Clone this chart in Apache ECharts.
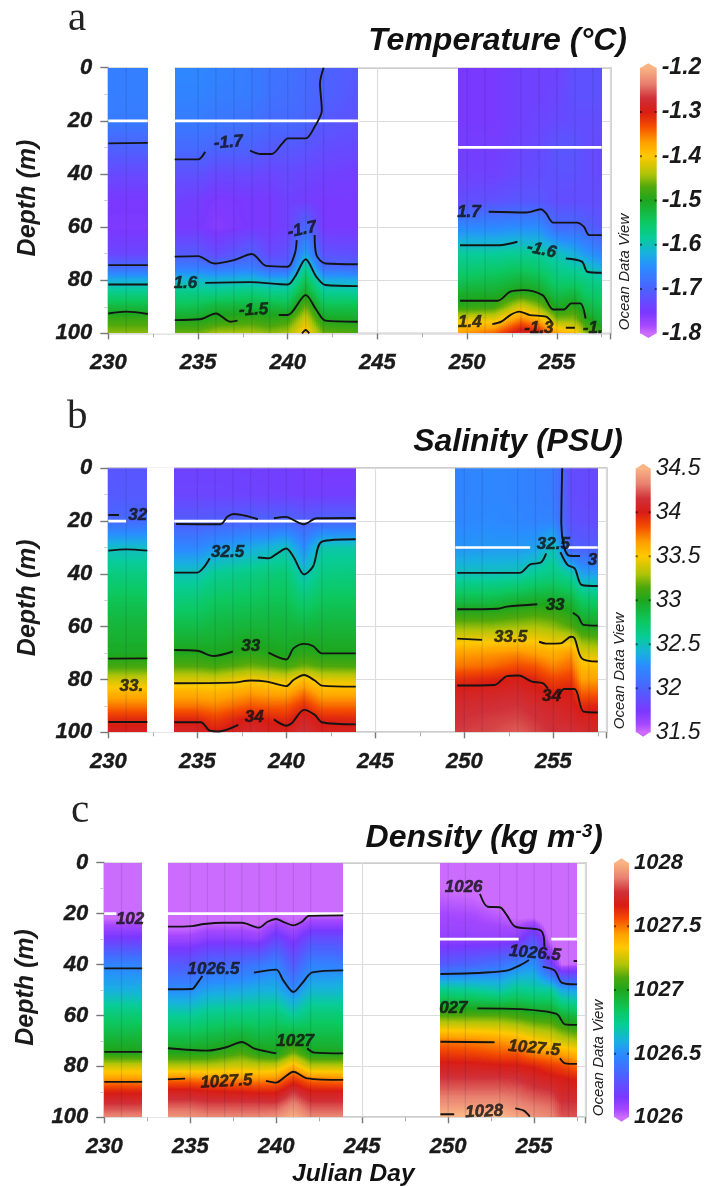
<!DOCTYPE html>
<html>
<head>
<meta charset="utf-8">
<style>
html,body{margin:0;padding:0;background:#fff}
#chart{width:718px;height:1187px;filter:blur(0.4px)}
</style>
<script src="https://cdn.jsdelivr.net/npm/echarts@6/dist/echarts.min.js"></script>
</head>
<body>
<div id="chart"></div>
<script>
// ---------- axes / sampling ----------
const xTicks = [230, 235, 240, 245, 250, 255];
const depthTicks = [0, 20, 40, 60, 80, 100];
const depths = [0, 10, 20, 30, 40, 50, 60, 70, 75, 80, 85, 90, 95, 100];
const stations = [230, 232.2, 233.7, 235, 236, 238, 239, 240, 241, 242, 243.9, 249.5, 251.5, 253, 254, 255, 256, 256.6, 257.5];
const sections = [[0, 1], [2, 10], [11, 18]];
const gap = [232.2, 233.7];
const stationLines = [231, 235, 236, 237, 238, 239, 240, 241, 242, 250, 251, 253, 254, 255, 256, 257];

// ---------- field values, one row per station, one column per depth ----------
const temperature = [
 [-1.665,-1.665,-1.67,-1.70,-1.73,-1.75,-1.755,-1.735,-1.69,-1.62,-1.57,-1.525,-1.48,-1.45],
 [-1.665,-1.665,-1.67,-1.70,-1.73,-1.75,-1.755,-1.735,-1.69,-1.62,-1.57,-1.525,-1.48,-1.45],
 [-1.655,-1.66,-1.67,-1.69,-1.72,-1.74,-1.75,-1.71,-1.67,-1.61,-1.57,-1.54,-1.50,-1.46],
 [-1.655,-1.66,-1.67,-1.69,-1.72,-1.745,-1.75,-1.71,-1.67,-1.61,-1.57,-1.535,-1.50,-1.46],
 [-1.66,-1.665,-1.675,-1.695,-1.73,-1.755,-1.76,-1.73,-1.68,-1.615,-1.57,-1.52,-1.49,-1.44],
 [-1.67,-1.67,-1.68,-1.70,-1.73,-1.75,-1.75,-1.70,-1.67,-1.61,-1.56,-1.52,-1.48,-1.44],
 [-1.68,-1.68,-1.69,-1.71,-1.735,-1.75,-1.75,-1.73,-1.70,-1.62,-1.57,-1.52,-1.49,-1.45],
 [-1.68,-1.685,-1.69,-1.71,-1.73,-1.74,-1.74,-1.72,-1.70,-1.62,-1.57,-1.53,-1.48,-1.44],
 [-1.69,-1.69,-1.695,-1.715,-1.735,-1.745,-1.69,-1.63,-1.58,-1.54,-1.505,-1.46,-1.42,-1.39],
 [-1.70,-1.70,-1.71,-1.725,-1.74,-1.75,-1.75,-1.72,-1.69,-1.62,-1.575,-1.535,-1.50,-1.46],
 [-1.71,-1.715,-1.72,-1.73,-1.745,-1.75,-1.75,-1.725,-1.695,-1.625,-1.58,-1.535,-1.505,-1.47],
 [-1.75,-1.75,-1.75,-1.745,-1.74,-1.725,-1.655,-1.585,-1.565,-1.54,-1.51,-1.49,-1.41,-1.37],
 [-1.75,-1.75,-1.75,-1.745,-1.74,-1.72,-1.655,-1.585,-1.56,-1.535,-1.51,-1.48,-1.41,-1.34],
 [-1.74,-1.74,-1.74,-1.735,-1.73,-1.715,-1.65,-1.58,-1.55,-1.52,-1.49,-1.42,-1.35,-1.28],
 [-1.74,-1.74,-1.735,-1.73,-1.725,-1.715,-1.65,-1.585,-1.56,-1.53,-1.50,-1.45,-1.38,-1.30],
 [-1.74,-1.735,-1.73,-1.715,-1.72,-1.725,-1.69,-1.60,-1.58,-1.56,-1.535,-1.505,-1.45,-1.37],
 [-1.72,-1.72,-1.725,-1.715,-1.72,-1.725,-1.69,-1.62,-1.59,-1.56,-1.525,-1.49,-1.45,-1.39],
 [-1.72,-1.72,-1.725,-1.725,-1.725,-1.725,-1.70,-1.64,-1.60,-1.57,-1.55,-1.525,-1.49,-1.45],
 [-1.72,-1.72,-1.725,-1.73,-1.73,-1.725,-1.715,-1.66,-1.625,-1.58,-1.56,-1.54,-1.52,-1.48]
];
const salinity = [
 [31.93,31.95,32.05,32.47,32.66,32.8,32.9,32.97,33.12,33.37,33.58,33.75,33.95,34.05],
 [31.93,31.95,32.05,32.47,32.66,32.8,32.9,32.97,33.12,33.37,33.58,33.75,33.95,34.05],
 [31.8,31.82,31.97,32.22,32.51,32.68,32.85,33.01,33.15,33.4,33.6,33.75,33.96,34.08],
 [31.8,31.82,31.97,32.22,32.51,32.7,32.85,33.01,33.15,33.4,33.6,33.75,33.96,34.08],
 [31.8,31.82,31.98,32.3,32.6,32.76,32.88,32.98,33.12,33.38,33.58,33.72,33.88,34.0],
 [31.79,31.81,32.02,32.38,32.65,32.78,32.9,33.05,33.2,33.49,33.66,33.82,34.03,34.1],
 [31.78,31.8,32.01,32.42,32.68,32.8,32.9,33.02,33.17,33.45,33.63,33.8,33.98,34.06],
 [31.78,31.8,32.03,32.49,32.7,32.8,32.9,32.98,33.12,33.42,33.62,33.8,33.95,34.04],
 [31.76,31.78,31.98,32.25,32.49,32.7,32.88,33.05,33.2,33.55,33.75,33.93,34.08,34.15],
 [31.75,31.78,32.02,32.53,32.65,32.78,32.9,33.0,33.15,33.42,33.6,33.78,33.97,34.05],
 [31.75,31.78,32.02,32.54,32.66,32.78,32.9,33.0,33.14,33.41,33.6,33.78,33.96,34.04],
 [32.2,32.2,32.22,32.28,32.5,32.85,33.25,33.65,33.75,33.93,34.05,34.12,34.15,34.18],
 [32.22,32.22,32.24,32.3,32.5,32.85,33.25,33.67,33.78,33.97,34.07,34.14,34.18,34.2],
 [32.2,32.2,32.22,32.3,32.52,32.92,33.28,33.7,33.85,34.02,34.1,34.16,34.2,34.25],
 [32.18,32.18,32.2,32.33,32.6,32.95,33.3,33.65,33.82,33.97,34.05,34.12,34.16,34.2],
 [32.15,32.15,32.2,32.5,32.65,32.95,33.25,33.6,33.72,33.87,33.97,34.08,34.12,34.15],
 [31.87,31.87,31.9,32.0,32.55,32.9,33.15,33.68,33.78,33.9,34.02,34.05,34.1,34.15],
 [31.85,31.85,31.88,31.97,32.35,32.75,33.03,33.42,33.55,33.65,33.8,33.95,34.05,34.12],
 [31.85,31.85,31.87,31.98,32.32,32.72,33.0,33.38,33.55,33.66,33.8,33.97,34.05,34.1]
];
const density = [
 [1025.9,1025.9,1025.96,1026.18,1026.47,1026.6,1026.8,1026.95,1027.02,1027.25,1027.45,1027.65,1027.78,1027.9],
 [1025.9,1025.9,1025.96,1026.18,1026.47,1026.6,1026.8,1026.95,1027.02,1027.25,1027.45,1027.65,1027.78,1027.9],
 [1025.9,1025.9,1025.92,1026.08,1026.3,1026.5,1026.72,1026.92,1027.02,1027.22,1027.5,1027.7,1027.82,1027.93],
 [1025.9,1025.9,1025.92,1026.08,1026.3,1026.5,1026.72,1026.92,1027.02,1027.22,1027.5,1027.7,1027.82,1027.93],
 [1025.9,1025.9,1025.94,1026.12,1026.36,1026.56,1026.76,1026.94,1027.02,1027.22,1027.48,1027.68,1027.8,1027.9],
 [1025.9,1025.9,1025.94,1026.12,1026.38,1026.58,1026.78,1026.98,1027.1,1027.26,1027.46,1027.66,1027.8,1027.9],
 [1025.9,1025.9,1025.93,1026.1,1026.42,1026.6,1026.78,1026.94,1027.03,1027.24,1027.46,1027.65,1027.8,1027.9],
 [1025.9,1025.92,1025.98,1026.22,1026.47,1026.6,1026.8,1026.95,1027.0,1027.25,1027.47,1027.65,1027.8,1027.92],
 [1025.9,1025.9,1025.95,1026.13,1026.3,1026.49,1026.72,1027.0,1027.15,1027.4,1027.6,1027.78,1027.9,1028.0],
 [1025.9,1025.92,1025.99,1026.25,1026.46,1026.62,1026.8,1026.93,1027.0,1027.22,1027.5,1027.68,1027.8,1027.9],
 [1025.9,1025.92,1025.99,1026.25,1026.46,1026.62,1026.8,1026.93,1027.0,1027.22,1027.48,1027.68,1027.8,1027.9],
 [1025.95,1026.0,1026.06,1026.1,1026.3,1026.75,1027.1,1027.5,1027.6,1027.7,1027.78,1027.85,1027.93,1028.02],
 [1025.92,1025.98,1026.05,1026.1,1026.35,1026.72,1027.1,1027.48,1027.58,1027.7,1027.78,1027.85,1027.93,1028.02],
 [1025.92,1025.92,1026.02,1026.1,1026.4,1026.68,1027.1,1027.45,1027.55,1027.68,1027.78,1027.85,1027.93,1028.02],
 [1025.92,1025.92,1025.97,1026.12,1026.47,1026.75,1027.07,1027.42,1027.55,1027.68,1027.77,1027.84,1027.9,1027.97],
 [1025.9,1025.9,1025.95,1026.28,1026.52,1026.72,1027.03,1027.35,1027.48,1027.65,1027.73,1027.8,1027.87,1027.93],
 [1025.9,1025.9,1025.9,1025.96,1026.2,1026.72,1027.02,1027.3,1027.45,1027.6,1027.7,1027.78,1027.85,1027.9],
 [1025.9,1025.9,1025.9,1025.9,1026.0,1026.58,1026.95,1027.25,1027.43,1027.58,1027.68,1027.72,1027.78,1027.82],
 [1025.9,1025.9,1025.9,1025.92,1026.02,1026.55,1026.9,1027.2,1027.38,1027.52,1027.65,1027.72,1027.78,1027.82]
];

// ---------- contour lines: each a list of [day, depth] ----------
const tempContours = [
 [[230,28.5],[232.2,28.3]],
 [[233.7,34.5],[235,34.5],[235.4,31.6]],
 [[237.9,31.2],[238.5,32.5],[239.1,32.5],[239.7,28.5],[240,26.6],[241,26.6],[241.5,22.2],[241.9,16],[241.8,5.9],[242,0]],
 [[230,74.3],[232.2,74.3]],
 [[233.7,71.1],[235,70.9],[235.9,73.7],[237,72.4],[238,70.1],[238.8,74.6],[240,74.9],[240.4,69.9],[240.5,64.9]],
 [[241.5,63],[241.6,70.5],[242.1,73.7],[243.9,74]],
 [[230,81.6],[232.2,81.6]],
 [[235.4,81],[237.9,80.7],[240,81.6],[240.4,78.7],[241,72.1],[241.6,78.7],[242.1,81.8],[243.9,82.2]],
 [[230,92.5],[231,91.8],[232.2,92.7]],
 [[233.7,95],[235.1,94.7],[236,92.5],[236.8,95.6],[237.2,95.2]],
 [[239.5,93.1],[240,93.1],[241,85.6],[241.6,91.2],[242.1,95.2],[243.9,95.6]],
 [[240.8,100],[241,98.7],[241.2,100]],
 [[251.2,54.2],[253.3,54.5],[254.1,53.3],[254.4,54.8],[254.8,58.3],[256.1,58.3],[256.5,59.8],[256.8,63],[257.5,63]],
 [[249.6,66.8],[251.8,66.8],[252.8,65.5]],
 [[255.5,71.8],[256.4,73],[256.7,76.8],[257.5,77.2]],
 [[249.6,87.7],[251.7,87.7],[252.4,84.3],[253.1,83.7],[254.2,85.6],[254.8,91],[255.4,91],[255.8,88.7],[256.3,88.7],[256.6,94.4]],
 [[251.4,96.5],[251.9,95.6],[252.4,93.1],[252.9,91.8],[253.5,93.1],[254.4,93.7],[254.7,95.6]],
 [[255.5,97.9],[256,97.9]]
];
const salContours = [
 [[230,17.7],[230.6,17.7]],
 [[233.8,21.1],[236.3,21.2],[236.7,18.3],[237.05,17.3],[237.8,18.1],[238.4,19.3]],
 [[239.3,18.9],[240,18.4],[240.4,19.6],[241,21.2],[241.7,18.9],[243.9,18.8]],
 [[255.5,0],[255.45,20.8],[255.6,29.7],[255.9,33.1],[256.5,33.2]],
 [[230,31.2],[231,30.7],[232.2,31.2]],
 [[233.7,39.5],[235,39.5],[235.4,37.2],[235.7,34.1]],
 [[238.4,33.8],[239,34.1],[239.5,32.2],[240,30.4],[240.4,33.5],[241,40.2],[241.5,37.2],[242,27.8],[243.9,26.9]],
 [[249.6,39.6],[253.1,39.6],[253.7,36.4],[254.3,35.7],[254.6,32.2]],
 [[255.4,31.8],[255.8,36.6],[256.2,37.9],[256.6,44.2],[257.5,44.6]],
 [[230,72.1],[232.2,72]],
 [[233.7,68.8],[235,69.1],[235.9,71.1],[237,69.4]],
 [[239,69.8],[240,72.4],[240.4,68.2],[241,66.5],[241.5,67.3],[242,70.1],[243.9,70.1]],
 [[249.6,53.4],[251.9,53.2],[252.4,52.4],[254.1,51.5]],
 [[256.1,54.7],[256.4,56.2],[256.7,59.3],[257.5,59.6]],
 [[233.7,81.4],[237,81.2],[238,80.4],[238.9,80.8],[240,82.5],[240.4,80.2],[241,78.3],[241.6,80.4],[242,82.3],[243.9,82.7]],
 [[249.6,64.5],[251,65]],
 [[254.2,65.7],[254.6,66.4],[255.4,66.3],[256,63.8],[256.2,64.4],[256.6,72],[257.5,73.2]],
 [[230,96.1],[232.2,96.1]],
 [[233.7,96.2],[235.2,96.2],[235.7,99.4],[236.2,99.7],[237.3,97.2]],
 [[239.3,95.1],[240,97.5],[240.3,96.6],[241,91.5],[241.6,93.4],[242,96.2],[243.9,97]],
 [[249.6,82.3],[251.7,82.1],[252.4,78.7],[253.05,78.5],[253.8,80.8],[254.4,81.4],[254.7,83.5]],
 [[255.3,86.5],[255.6,83.6],[256.2,83.6],[256.7,92.2],[257.5,92.5]]
];
const densContours = [
 [[233.7,25.1],[235.1,24.9],[235.8,24.1],[236.9,23.6],[238,23.6],[239,25.5],[239.5,23.2],[240,22.1],[240.4,23.2],[241,24.6],[241.5,23.2],[241.9,20.9],[243.9,20.7]],
 [[251.85,12.3],[252.3,17.3],[253,17.5],[253.4,20.5],[253.9,25.1],[255.4,26.7],[255.6,33]],
 [[257.3,38.6],[257.5,38.6]],
 [[230,41.5],[232.2,41.5]],
 [[233.7,49.7],[235.1,49.6],[235.4,47.4],[235.7,44.5]],
 [[238.7,43.2],[240,42],[240.4,46.1],[241,50.8],[241.5,47.4],[242.1,43.1],[243.9,42.3]],
 [[249.55,43.7],[252,43.2],[253.4,42.4],[254.2,40.2],[254.7,38.2]],
 [[255.5,40.8],[256.2,42.4],[256.6,47.1],[257.5,47.8]],
 [[230,74.3],[232.2,74.3]],
 [[233.7,72.9],[236,73.8],[237.1,72.5],[238,70.4],[238.7,72.9],[240,74.9]],
 [[241.8,72.9],[242.2,74.6],[243.9,74.9]],
 [[251.7,57.2],[254.2,57.5],[256.3,59.4],[256.8,63.5],[257.5,63.7]],
 [[230,86.1],[232.2,86.1]],
 [[233.7,85.1],[234.7,84.8]],
 [[239.4,85.7],[240,86.4],[240.4,84.7],[241,82.1],[241.8,84.7],[243.9,85.3]],
 [[249.55,70.3],[252.7,70.5]],
 [[256.5,76.8],[256.8,78.8],[257.5,79]],
 [[249.55,98.8],[250.35,98.8]],
 [[253.9,96.5],[254.4,97.4],[254.75,99.7]]
];

// ---------- contour labels: day, depth, text, tilt ----------
const tempLabels = [
 [236.7,28.2,'-1.7',5],[240.8,61,'-1.7',12],[234.3,81.2,'1.6',0],[238.1,91.2,'-1.5',3],
 [250.1,54.5,'1.7',0],[254.15,68.6,'-1.6',-12],[250.15,96,'1.4',0],[254,98,'-1.3',0],[257,98,'-1.',0]
];
const salLabels = [
 [231.65,17.7,'32',0],[236.7,31.8,'32.5',0],[238,67.5,'33',0],[231.3,82.5,'33.',0],[238.2,94.3,'34',0],
 [255,28.7,'32.5',0],[257.2,34.7,'3',0],[255.1,52,'33',0],[252.6,64.1,'33.5',0],[254.9,86.5,'34',0]
];
const densLabels = [
 [231.5,22.3,'102',0],[236.35,41.9,'1026.5',0],[241.1,70,'1027',0],[237.1,86,'1027.5',3],
 [250.9,9.8,'1026',0],[255.05,35.6,'1026.5',-5],[250.3,57.2,'027',0],[255,72.9,'1027.5',-5],[252.1,97.8,'1028',3]
];

// ---------- white sampling lines: depth, from day, to day ----------
const tempWhite = [[20,230,232.2],[20,233.7,244],[30,249.5,257.5]];
const salWhite = [[20,230,231],[20,233.7,244],[30,249.5,253.7],[30,255.8,257.5]];
const densWhite = [[20,230,230.7],[20,233.7,244],[30,249.5,254.1],[30,256,257.5]];

// ---------- colour bar ticks ----------
const tempBar = [-1.8, -1.7, -1.6, -1.5, -1.4, -1.3, -1.2];
const salBar = [31.5, 32, 32.5, 33, 33.5, 34, 34.5];
const densBar = [1026, 1026.5, 1027, 1027.5, 1028];

// ---------- colours ----------
const ramp = [[0,'#cc6cff'],[.03,'#a548ff'],[.08,'#7a38ff'],[.167,'#4c62ff'],[.25,'#2a8cff'],[.3,'#18b0e0'],[.36,'#08cc98'],[.42,'#0cc860'],[.5,'#1ea61e'],[.55,'#4ea80c'],[.6,'#b0c408'],[.667,'#ffc800'],[.72,'#ffa000'],[.78,'#f44c00'],[.833,'#d81c14'],[.885,'#d03038'],[.94,'#e88070'],[1,'#fab484']];
const hex2 = h => [1,3,5].map(i => parseInt(h.substr(i,2),16));
const lut = [];
for (let i = 0; i <= 400; i++) {
  const t = i / 400; let k = 0;
  while (k < ramp.length - 2 && t > ramp[k+1][0]) k++;
  const a = hex2(ramp[k][1]), b = hex2(ramp[k+1][1]);
  const f = (t - ramp[k][0]) / (ramp[k+1][0] - ramp[k][0]);
  lut.push('rgb(' + a.map((v,j) => Math.round(v + (b[j]-v)*f)).join(',') + ')');
}

// ---------- layout ----------
const font = 'Liberation Sans';
const panels = [
 {name:'temp',field:temperature,contours:tempContours,labels:tempLabels,white:tempWhite,bar:tempBar,barStep:0.1,
  left:108.3,top:67.7,width:502.4,height:265.7,barLeft:640,barW:16.7,barWeight:'bold',barSize:23,lab:17,nameGap:68},
 {name:'sal',field:salinity,contours:salContours,labels:salLabels,white:salWhite,bar:salBar,barStep:0.5,
  left:108.3,top:468.3,width:498.4,height:264,barLeft:635.7,barW:15,barWeight:'normal',barSize:23,lab:17,nameGap:68},
 {name:'dens',field:density,contours:densContours,labels:densLabels,white:densWhite,bar:densBar,barStep:0.5,
  left:104.3,top:862.7,width:481.4,height:254.6,barLeft:614,barW:15,barWeight:'bold',barSize:22,lab:17,nameGap:66}
];

const grids = [], xAxes = [], yAxes = [], series = [];
const ink = {textBorderColor:'#1a1a1a',textBorderWidth:0.4};
const axisFont = {fontFamily:font,fontWeight:'bold',fontStyle:'italic',fontSize:22,color:'#1a1a1a',...ink};

panels.forEach((p, i) => {
  const g = i * 2, gb = g + 1;
  grids.push({left:p.left,top:p.top,width:p.width,height:p.height,show:true,borderColor:'#9a9a9a',borderWidth:1.5,backgroundColor:'#fff',containLabel:false});
  xAxes.push({gridIndex:g,type:'value',min:230,max:258,interval:5,position:'bottom',
    axisLine:{show:false,onZero:false},
    axisTick:{length:6,lineStyle:{color:'#777',width:1.4}},
    minorTick:{show:true,splitNumber:2,length:4,lineStyle:{color:'#aaa'}},
    splitLine:{show:true,lineStyle:{color:'#dcdcdc',width:1.2}},
    axisLabel:{...axisFont,margin:19,showMaxLabel:false,formatter:v => xTicks.includes(v) ? String(v) : ''}});
  yAxes.push({gridIndex:g,type:'value',min:0,max:100,interval:20,inverse:true,
    name:'Depth (m)',nameLocation:'middle',nameGap:p.nameGap,nameRotate:90,
    nameTextStyle:{fontFamily:font,fontWeight:'bold',fontStyle:'italic',fontSize:25,color:'#1a1a1a',padding:[0,0,0,5]},
    axisLine:{show:false,onZero:false},
    axisTick:{length:8,lineStyle:{color:'#777',width:1.4}},
    minorTick:{show:true,splitNumber:2,length:4,lineStyle:{color:'#ccc'}},
    splitLine:{show:true,lineStyle:{color:'#dcdcdc',width:1.2}},
    axisLabel:{...axisFont,margin:16,formatter:v => depthTicks.includes(v) ? String(v) : ''}});

  const lo = p.bar[0], hi = p.bar[p.bar.length-1];
  const colorOf = v => lut[Math.max(0, Math.min(400, Math.round((v - lo) / (hi - lo) * 400)))];

  // gap between sections, hides the grid lines
  series.push({type:'custom',xAxisIndex:g,yAxisIndex:g,silent:true,z:1,animation:false,
    data:[[gap[0],gap[1]]],encode:{x:[0,1]},
    renderItem:(params,api) => {
      const a = api.coord([api.value(0),0]), b = api.coord([api.value(1),100]);
      return {type:'rect',shape:{x:a[0],y:a[1]-1,width:b[0]-a[0],height:b[1]-a[1]+1},style:{fill:'#fff'}};
    }});

  // coloured field: one item per station/depth cell, shaded at draw time
  const cells = [];
  sections.forEach(([s0,s1]) => {
    for (let s = s0; s < s1; s++) for (let d = 0; d < depths.length-1; d++) {
      cells.push([stations[s],stations[s+1],depths[d],depths[d+1],p.field[s][d],p.field[s+1][d],p.field[s][d+1],p.field[s+1][d+1]]);
    }
  });
  series.push({type:'custom',xAxisIndex:g,yAxisIndex:g,silent:true,z:2,animation:false,clip:true,
    data:cells,encode:{x:[0,1],y:[2,3]},
    renderItem:(params,api) => {
      const v = [0,1,2,3,4,5,6,7].map(k => api.value(k));
      const a = api.coord([v[0],v[2]]), b = api.coord([v[1],v[3]]);
      const x0 = Math.round(a[0]), x1 = Math.round(b[0]), y0 = Math.round(a[1]), y1 = Math.round(b[1]);
      const children = [];
      const sx = 2, sy = 1;
      for (let x = x0; x < x1; x += sx) {
        const u = (x + sx/2 - a[0]) / (b[0]-a[0]);
        const top = v[4] + (v[5]-v[4]) * u, bot = v[6] + (v[7]-v[6]) * u;
        for (let y = y0; y < y1; y += sy) {
          const w = (y + sy/2 - a[1]) / (b[1]-a[1]);
          children.push({type:'rect',shape:{x:x,y:y,width:Math.min(sx,x1-x),height:Math.min(sy,y1-y)},
            style:{fill:colorOf(top + (bot-top)*w)}});
        }
      }
      return {type:'group',children};
    }});

  // station lines
  series.push({type:'custom',xAxisIndex:g,yAxisIndex:g,silent:true,z:3,animation:false,
    data:stationLines.map(d => [d]),encode:{x:0},
    renderItem:(params,api) => {
      const a = api.coord([api.value(0),0]), b = api.coord([api.value(0),100]);
      return {type:'line',shape:{x1:a[0],y1:a[1],x2:b[0],y2:b[1]},style:{stroke:'rgba(30,30,60,0.13)',lineWidth:1.2}};
    }});

  // white lines
  p.white.forEach(w => series.push({type:'line',xAxisIndex:g,yAxisIndex:g,silent:true,z:4,animation:false,showSymbol:false,
    data:[[w[1],w[0]],[w[2],w[0]]],lineStyle:{color:'#fff',width:2.6}}));

  // contours
  p.contours.forEach(c => series.push({type:'line',xAxisIndex:g,yAxisIndex:g,silent:true,z:5,animation:false,showSymbol:false,
    smooth:0.3,data:c,lineStyle:{color:'#141414',width:1.9}}));

  // contour labels
  series.push({type:'scatter',xAxisIndex:g,yAxisIndex:g,silent:true,z:6,animation:false,symbolSize:0,
    data:p.labels.map(l => ({value:[l[0],l[1]],label:{formatter:l[2],rotate:l[3]}})),
    label:{show:true,position:'inside',fontFamily:font,fontWeight:'bold',fontStyle:'italic',fontSize:p.lab,color:'#111',textBorderColor:'#111',textBorderWidth:0.5}});

  // colour bar in its own grid, with its own value axis
  grids.push({left:p.barLeft,top:p.top,width:p.barW,height:p.height,containLabel:false});
  xAxes.push({gridIndex:gb,type:'value',min:0,max:1,show:false});
  yAxes.push({gridIndex:gb,type:'value',min:lo,max:hi,interval:p.barStep,
    axisLine:{show:false},axisTick:{show:false},splitLine:{show:false},
    axisLabel:{fontFamily:font,fontWeight:p.barWeight,fontStyle:'italic',fontSize:p.barSize,color:'#1a1a1a',
      showMinLabel:true,showMaxLabel:true,hideOverlap:false,margin:0,position:'right',
      inside:false,formatter:v => String(+v.toFixed(1))},
    position:'right',offset:5});
  const barStops = ramp.map(r => ({offset:1-r[0],color:r[1]}));
  series.push({type:'custom',xAxisIndex:gb,yAxisIndex:gb,silent:true,z:2,animation:false,clip:false,
    data:[[0,lo,1,hi]],encode:{x:[0,2],y:[1,3]},
    renderItem:(params,api) => {
      const a = api.coord([api.value(0),api.value(3)]), b = api.coord([api.value(2),api.value(1)]);
      const mid = (a[0]+b[0])/2;
      const kids = [
        {type:'rect',shape:{x:a[0],y:a[1],width:b[0]-a[0],height:b[1]-a[1]},
         style:{fill:new echarts.graphic.LinearGradient(0,0,0,1,barStops)}},
        {type:'polygon',shape:{points:[[a[0],a[1]+.5],[mid,a[1]-4.5],[b[0],a[1]+.5]]},style:{fill:ramp[ramp.length-1][1]}},
        {type:'polygon',shape:{points:[[a[0],b[1]-.5],[mid,b[1]+4.5],[b[0],b[1]-.5]]},style:{fill:ramp[0][1]}}
      ];
      p.bar.slice(1,-1).forEach(t => {
        const y = api.coord([0,t])[1];
        kids.push({type:'rect',shape:{x:a[0],y:y-1,width:2,height:2},style:{fill:'rgba(0,0,0,.55)'}});
        kids.push({type:'rect',shape:{x:b[0]-2,y:y-1,width:2,height:2},style:{fill:'rgba(0,0,0,.55)'}});
      });
      return {type:'group',children:kids};
    }});
});

const titleStyle = {fontFamily:font,fontWeight:'bold',fontStyle:'italic',fontSize:32,color:'#111'};
const letter = {fontFamily:'Liberation Serif',fontSize:41,fontWeight:'normal',color:'#222'};
const odv = (x, y) => ({type:'text',x,y,rotation:Math.PI/2,silent:true,
  style:{text:'Ocean Data View',fontFamily:font,fontStyle:'italic',fontSize:15,fill:'#222',align:'center',verticalAlign:'middle'}});

const chart = echarts.init(document.getElementById('chart'), null, {renderer:'canvas'});
chart.setOption({
  animation:false,
  backgroundColor:'#fff',
  title:[
    {text:'Temperature (°C)',right:86,top:20,textStyle:titleStyle},
    {text:'Salinity (PSU)',right:90,top:421,textStyle:titleStyle},
    {text:'{t|Density (kg m}{s|-3}{t|)}',right:110,top:817,textStyle:{rich:{t:titleStyle,s:{...titleStyle,fontSize:19,verticalAlign:'top',padding:[0,0,12,0]}}}},
    {text:'a',left:63,top:-6,textStyle:letter},
    {text:'b',left:62,top:392,textStyle:letter},
    {text:'c',left:66,top:786,textStyle:letter},
    {text:'Julian Day',left:287,top:1157,textStyle:{...titleStyle,fontSize:24.5}}
  ],
  grid:grids,xAxis:xAxes,yAxis:yAxes,series,
  graphic:[odv(625,272),odv(620,671),odv(599,1058)]
});
</script>
</body>
</html>
